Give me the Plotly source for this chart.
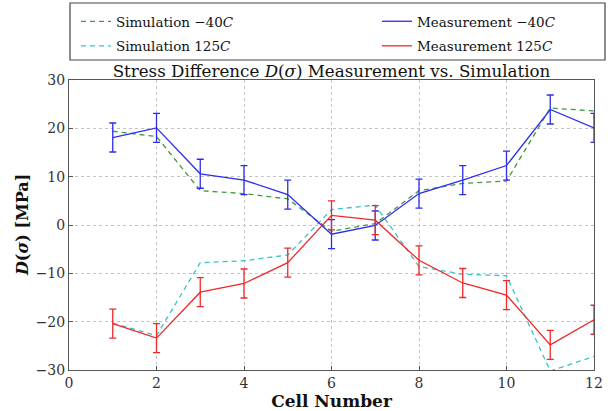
import plotly.graph_objects as go

cells = [1, 2, 3, 4, 5, 6, 7, 8, 9, 10, 11, 12]
meas_m40 = [18.1, 20.1, 10.6, 9.3, 6.3, -1.9, -0.1, 6.5, 9.3, 12.3, 23.9, 20.1]
sim_m40 = [19.4, 18.3, 7.1, 6.5, 5.4, -1.3, 0.3, 7.1, 8.6, 9.1, 24.2, 23.6]
meas_125 = [-20.4, -23.4, -13.9, -12.1, -7.8, 2.0, 1.0, -7.3, -12.0, -14.5, -24.8, -19.6]
sim_125 = [-20.3, -22.9, -7.8, -7.4, -6.2, 3.2, 4.1, -8.6, -10.2, -10.5, -30.2, -27.2]
err_m40 = [3, 3, 3, 3, 3, 3, 3, 3, 3, 3, 3, 3]
err_125 = [3, 3, 3, 3, 3, 3, 3, 3, 3, 3, 3, 3]

FONT = "DejaVu Serif"
W, H = 612, 411
L, R, T, B = 69, 18, 80, 41
PW, PH = W - L - R, H - T - B


def px2paper(px, py):
    return (px - L) / PW, (H - B - py) / PH


fig = go.Figure()
fig.add_trace(go.Scatter(x=cells, y=sim_m40, mode="lines", name="Simulation −40<i>C</i>",
                         legend="legend", legendgroup="a",
                         line=dict(color="#3c9c3c", width=1.3, dash="5px,4px")))
fig.add_trace(go.Scatter(x=cells, y=sim_125, mode="lines", name="Simulation 125<i>C</i>",
                         legend="legend", legendgroup="b",
                         line=dict(color="#38c4c4", width=1.3, dash="5px,4px")))
fig.add_trace(go.Scatter(x=cells, y=meas_m40, mode="lines", name="Measurement −40<i>C</i>",
                         legend="legend2", legendgroup="c",
                         line=dict(color="#2c2cf0", width=1.3),
                         error_y=dict(type="data", array=err_m40, color="#2c2cf0", thickness=1.3, width=3.5)))
fig.add_trace(go.Scatter(x=cells, y=meas_125, mode="lines", name="Measurement 125<i>C</i>",
                         legend="legend2", legendgroup="d",
                         line=dict(color="#f02828", width=1.3),
                         error_y=dict(type="data", array=err_125, color="#f02828", thickness=1.3, width=3.5)))

axis_common = dict(showline=True, linecolor="#555", linewidth=1, mirror=True,
                   showgrid=True, gridcolor="#c4c4c4", griddash="dot", gridwidth=1,
                   ticks="inside", ticklen=4, tickcolor="#555", zeroline=False,
                   tickfont=dict(family=FONT, size=14, color="#333"))

leg_common = dict(orientation="v", xref="container", yref="container",
                  xanchor="left", yanchor="top", y=1 - 6 / H,
                  bgcolor="rgba(0,0,0,0)", borderwidth=0,
                  font=dict(family=FONT, size=13.5, color="#111"),
                  itemwidth=30, tracegroupgap=4, traceorder="grouped")

x0, y0 = px2paper(70, 3)
x1, y1 = px2paper(605, 60)
yt_x, yt_y = px2paper(22, 225)

fig.update_layout(
    width=W, height=H,
    margin=dict(l=L, r=R, t=T, b=B, autoexpand=False),
    paper_bgcolor="white", plot_bgcolor="white",
    font=dict(family=FONT, color="#111"),
    title=dict(text="Stress Difference <i>D</i>(<i>σ</i>) Measurement vs. Simulation",
               x=331.5 / W, xanchor="center", xref="container",
               y=1 - 71 / H, yanchor="middle", yref="container",
               font=dict(family=FONT, size=16.7, color="#111")),
    xaxis=dict(range=[0, 12], tickvals=[0, 2, 4, 6, 8, 10, 12],
               title=dict(text="<b>Cell Number</b>", font=dict(family=FONT, size=17), standoff=8),
               **axis_common),
    yaxis=dict(range=[-30, 30], tickvals=[-30, -20, -10, 0, 10, 20, 30],
               **axis_common),
    annotations=[dict(text="<b><i>D</i>(<i>σ</i>) [MPa]</b>", xref="paper", yref="paper",
                      x=yt_x, y=yt_y, xanchor="center", yanchor="middle", textangle=-90,
                      showarrow=False, font=dict(family=FONT, size=16, color="#111"))],
    legend=dict(x=76 / W, **leg_common),
    legend2=dict(x=377 / W, **leg_common),
    shapes=[dict(type="rect", xref="paper", yref="paper", x0=x0, y0=y0, x1=x1, y1=y1,
                 line=dict(color="#444", width=1.2), fillcolor="rgba(0,0,0,0)", layer="above")],
    showlegend=True,
)
fig.write_html("out.html")
